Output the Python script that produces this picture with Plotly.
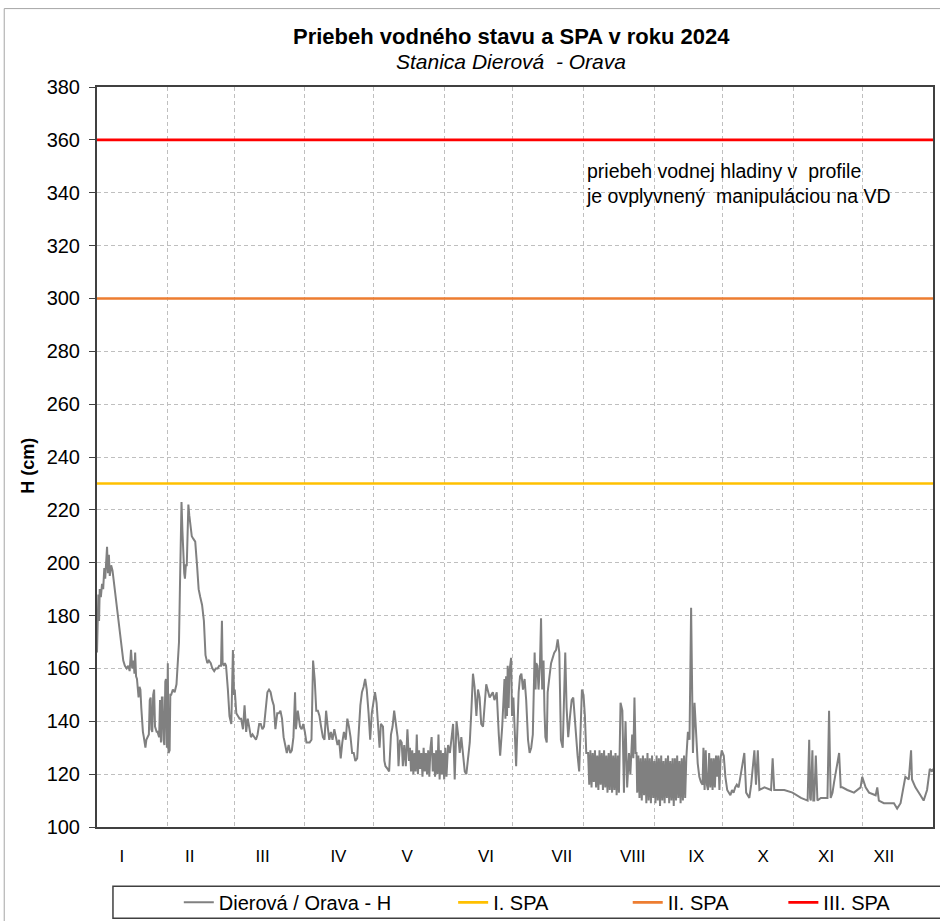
import plotly.graph_objects as go

# ---------------- data ----------------
month_labels = ["I", "II", "III", "IV", "V", "VI", "VII", "VIII", "IX", "X", "XI", "XII"]
month_label_day = [10.9, 40.6, 72.5, 105.7, 135.8, 170.3, 203.5, 234.5, 262.4, 291.7, 319.2, 344.5]
month_start_day = [31, 60, 91, 121, 152, 182, 213, 244, 274, 305, 335]
year_days = 366

spa1_level = 230
spa2_level = 300
spa3_level = 360

# water level H (cm), time in days since 1 Jan 2024 00:00
jan_t = [0.0, 0.2, 0.4, 0.6, 0.9, 1.2, 1.7, 2.2, 2.7, 3.2, 3.6, 4.0, 4.4, 4.8, 5.2, 5.6, 6.2, 6.8, 7.7, 8.5,
         9.2, 10.0, 10.7, 11.5, 12.2, 13.0, 13.7, 14.3, 14.9, 15.4, 16.0, 16.4, 16.7, 17.1, 17.5, 18.2, 18.6,
         19.0, 19.4, 19.7, 20.1, 20.5, 20.9, 21.2, 21.6, 22.0, 22.4, 22.7, 23.1, 23.5, 23.8, 24.2, 24.6, 25.0,
         25.4, 25.7, 26.1, 26.5, 27.2, 27.6, 28.0, 28.4, 28.7, 29.1, 29.5, 29.9, 30.2, 30.6]
jan_h = [166, 180, 172, 188, 178, 190, 187, 192, 190, 198, 194, 204, 206, 196, 203, 195, 199, 197, 190, 185,
         180, 173, 167, 163, 161, 160, 161, 159, 167, 160, 163, 158, 166, 157, 156, 149, 153,
         152, 145, 139, 136, 134, 131, 130, 133, 134, 135, 135, 148, 149, 137, 136, 150, 152,
         138, 137, 136, 136, 134, 148, 132, 149, 149, 133, 131, 155, 156, 130]

feb_t = [31.0, 31.3, 31.8, 32.1, 32.5, 33.2, 34.0, 34.8, 35.5, 35.9, 36.3, 36.7, 37.0, 37.4, 37.8, 38.2, 38.5,
         38.9, 39.3, 39.6, 40.0, 40.4, 40.8, 41.5, 42.2, 43.0, 43.8, 44.5, 45.2, 46.0, 46.8, 47.5, 48.3, 49.0,
         49.8, 50.5, 51.3, 52.0, 52.8, 53.5, 54.3, 54.7, 55.0, 55.5, 56.0, 56.5, 57.3, 58.0, 58.5, 58.8, 59.5]
feb_h = [162, 128, 129, 150, 150, 152, 151, 154, 162, 170, 190, 210, 223, 212, 202, 196, 194,
         199, 199, 215, 222, 218, 215, 210, 209, 208, 199, 190, 187, 184, 178, 165, 162, 163,
         162, 160, 159, 160, 160, 161, 161, 178, 162, 161, 162, 161, 152, 142, 140, 139, 167]

mar_t = [60.0, 60.3, 61.0, 61.7, 62.4, 63.1, 63.9, 64.6, 65.3, 66.0, 66.7, 67.4, 68.1, 68.9, 69.6, 70.3, 71.0,
         71.7, 72.4, 73.1, 73.9, 74.6, 75.3, 76.0, 76.7, 77.4, 78.1, 78.9, 79.6, 80.3, 81.0, 81.7, 82.4, 83.1,
         83.9, 84.6, 85.3, 86.0, 86.7, 87.1, 87.9, 88.9, 89.6, 90.3]
mar_h = [150, 152, 143, 142, 141, 141, 137, 146, 136, 141, 138, 134, 135, 134, 133, 135, 139,
         139, 137, 138, 146, 151, 152, 151, 148, 146, 137, 143, 143, 144, 141, 134, 131, 128,
         131, 128, 129, 134, 151, 137, 144, 138, 137, 139]

apr_t = [91.0, 91.7, 92.4, 93.1, 93.9, 94.6, 95.3, 96.0, 96.7, 97.4, 98.1, 98.9, 99.6, 100.3, 101.0, 101.7,
         102.4, 103.1, 103.9, 104.6, 105.3, 106.0, 106.7, 107.4, 108.1, 108.9, 109.6, 110.3, 111.0, 111.7,
         112.4, 113.1, 113.9, 114.6, 115.3, 116.0, 116.7, 117.4, 118.1, 118.9, 119.6, 120.3]
apr_h = [136, 132, 132, 132, 133, 163, 156, 144, 144, 142, 138, 134, 133, 144, 138, 133,
         136, 133, 137, 134, 131, 133, 126, 132, 136, 133, 141, 138, 134, 128,
         128, 125, 126, 136, 146, 151, 153, 156, 152, 143, 133, 143]

may_t = [121.0, 121.7, 122.4, 123.0, 123.7, 124.3, 125.2, 125.8, 126.3, 127.2, 127.9, 128.7, 129.4, 130.1,
         130.8, 131.6, 132.0, 132.7, 133.4, 133.9, 134.5, 135.2, 135.9, 136.6,
         137.0, 137.5, 138.0, 138.5, 139.0, 139.5, 140.0, 140.5, 141.0, 141.5, 142.0, 142.5, 143.0, 143.5,
         144.0, 144.5, 145.0, 145.5, 146.0, 146.5, 147.0, 147.5, 148.0, 148.5, 149.0, 149.5, 150.0, 150.5,
         151.0, 151.5, 152.0, 152.5, 153.0]
may_h = [148, 151, 147, 138, 130, 139, 138, 125, 123, 122, 121, 135, 138, 144,
         140, 134, 123, 133, 132, 123, 131, 123, 137, 125,
         130, 121, 129, 120, 128, 121, 135, 120, 129, 122, 128, 119, 130, 121,
         128, 120, 129, 119, 130, 134, 121, 128, 119, 129, 120, 135, 118, 129,
         120, 128, 118, 130, 119]

jun_t = [153.7, 154.5, 155.9, 156.6, 157.4, 158.1, 158.8, 159.5, 160.3, 161.0, 161.7, 162.4, 163.2, 163.9,
         164.6, 165.3, 166.1, 166.8, 167.5, 168.2, 169.0, 170.4, 171.1, 171.9, 172.6, 173.3, 174.0, 175.0,
         175.9, 176.5, 177.4, 178.4, 178.8, 179.1, 179.5, 179.8, 180.2, 180.6, 181.3, 181.7]
jun_h = [131, 128, 139, 118, 140, 135, 128, 134, 126, 121, 120, 125, 132, 144,
         158, 153, 142, 152, 149, 139, 138, 154, 152, 149, 150, 151, 148, 151,
         135, 127, 138, 156, 141, 157, 142, 161, 145, 159, 164, 142]

jul_t = [182.3, 183.0, 183.5, 184.0, 184.6, 185.2, 185.8, 186.5, 187.2, 187.9, 188.7, 189.4, 190.1, 190.8,
         191.2, 191.6, 192.0, 192.3, 192.8, 193.3, 193.9, 194.4, 194.9, 195.5, 195.9, 196.3, 196.9, 197.3,
         198.1, 198.8, 199.5, 200.2, 201.0, 201.7, 202.4, 203.1, 203.9, 204.6, 205.0, 205.6, 206.3, 207.1,
         207.8, 208.5, 208.9, 209.7, 210.4, 211.1, 211.8, 212.3]
jul_h = [149, 129, 123, 136, 151, 157, 158, 152, 156, 148, 133, 128, 130, 135,
         150, 166, 152, 162, 161, 152, 161, 179, 152, 163, 144, 134, 132, 151,
         157, 162, 164, 166, 167, 171, 166, 133, 130, 161, 166, 145, 134, 142,
         148, 149, 144, 133, 127, 121, 137, 152]

aug_t = [213.0, 213.6, 214.2, 214.7,
         215.0, 215.5, 216.0, 216.5, 217.0, 217.5, 218.0, 218.5, 219.0, 219.5, 220.0, 220.5, 221.0, 221.5,
         222.0, 222.5, 223.0, 223.5, 224.0, 224.5, 225.0, 225.5, 226.0, 226.5, 227.0, 227.5, 228.0, 228.5,
         229.2, 230.0, 230.4, 230.7, 231.0, 231.4, 232.1, 232.9, 233.5, 234.3, 234.8, 235.3, 235.8, 236.2,
         236.5, 237.0, 237.5, 238.0, 238.5, 239.0, 239.5, 240.0, 240.5, 241.0,
         241.5, 242.0, 242.5, 243.0, 243.5]
aug_h = [150, 142, 128, 128,
         128, 116, 129, 115, 128, 117, 129, 115, 127, 114, 129, 116, 128, 114,
         129, 115, 127, 113, 128, 114, 129, 113, 127, 114, 128, 112, 127, 113,
         147, 144, 128, 113, 128, 140, 115, 128, 120, 135, 126, 149, 128, 128,
         113, 127, 111, 126, 110, 127, 112, 126, 109, 128,
         110, 126, 109, 127, 111]

sep_t = [244.0, 244.5, 245.0, 245.5, 246.0, 246.5, 247.0, 247.5, 248.0, 248.5, 249.0, 249.5, 250.0, 250.5,
         251.0, 251.5, 252.0, 252.5, 253.0, 253.5, 254.0, 254.5, 255.0, 255.5, 256.0, 256.5, 257.0, 257.5,
         258.0, 258.7, 259.4, 260.1, 260.5, 260.9, 261.6, 262.3, 263.0, 263.7, 264.4, 265.1,
         265.5, 266.0, 266.5, 267.0, 267.5, 268.0, 268.5, 269.0, 269.5, 270.0, 270.5, 271.0, 271.5, 272.0,
         272.5, 273.0, 273.5]
sep_h = [125, 109, 127, 110, 126, 108, 127, 110, 125, 109, 126, 111, 127, 109,
         125, 110, 126, 108, 126, 110, 127, 111, 125, 109, 126, 110, 127, 111,
         126, 136, 133, 183, 140, 128, 147, 133, 124, 119, 117, 116,
         130, 114, 129, 116, 114, 128, 115, 126, 114, 126, 115, 127, 119, 127,
         114, 126, 129]

oct_t = [274.4, 275.1, 275.9, 277.3, 278.0, 278.7, 279.4, 280.1, 280.9, 283.4, 284.2, 285.6, 286.4, 287.8,
         288.5, 289.3, 290.0, 292.2, 295.1, 295.8, 296.5, 300.9, 304.5]
oct_h = [127, 119, 114, 112, 114, 113, 115, 116, 115, 128, 113, 111, 116, 129,
         116, 129, 114, 115, 114, 126, 114, 114, 113]

nov_t = [308.2, 311.1, 311.8, 312.2, 312.5, 313.2, 313.6, 314.0, 314.7, 315.4, 316.9, 319.8, 320.5, 321.2,
         322.0, 322.7, 324.9, 325.6, 326.3, 328.5, 331.4, 334.3]
nov_h = [111, 110, 133, 111, 110, 129, 110, 110, 127, 110, 111, 111, 144, 111,
         113, 117, 128, 115, 115, 114, 113, 115]

dec_t = [335.0, 336.5, 338.0, 340.9, 341.6, 342.3, 344.5, 348.9, 350.3, 351.8, 353.9, 355.4, 356.4, 356.8,
         358.3, 360.5, 361.9, 363.4, 364.6, 365.6, 366.0]
dec_h = [119, 115, 113, 112, 115, 110, 109, 109, 107, 109, 119, 118, 129, 118,
         115, 112, 110, 114, 122, 121, 122]

segments_t = [jan_t, feb_t, mar_t, apr_t, may_t, jun_t, jul_t, aug_t, sep_t, oct_t, nov_t, dec_t]
segments_h = [jan_h, feb_h, mar_h, apr_h, may_h, jun_h, jul_h, aug_h, sep_h, oct_h, nov_h, dec_h]
t_all, h_all = [], []
for i, (ts, hs) in enumerate(zip(segments_t, segments_h)):
    assert len(ts) == len(hs), (i, len(ts), len(hs))
    t_all += ts
    h_all += hs

# ---------------- figure ----------------
FONT = "Arial, Liberation Sans, sans-serif"
GRID_DASH = "4px,3px"
fig = go.Figure()

fig.add_trace(go.Scatter(x=t_all, y=h_all, mode="lines", name="Dierová / Orava - H",
                         line=dict(color="#808080", width=2.0), legend="legend", showlegend=True))
fig.add_trace(go.Scatter(x=[0, year_days], y=[spa1_level, spa1_level], mode="lines", name="I. SPA",
                         line=dict(color="#FFC000", width=2.6), legend="legend2", showlegend=True))
fig.add_trace(go.Scatter(x=[0, year_days], y=[spa2_level, spa2_level], mode="lines", name="II. SPA",
                         line=dict(color="#ED7D31", width=2.6), legend="legend3", showlegend=True))
fig.add_trace(go.Scatter(x=[0, year_days], y=[spa3_level, spa3_level], mode="lines", name="III. SPA",
                         line=dict(color="#FF0000", width=2.6), legend="legend4", showlegend=True))

W, H = 940, 927
L, R, T, B = 97, 5, 87, 95
pw = W - L - R
ph = H - T - B
VS = H / 921.0  # vertical correction between layout px and captured px


def px(xp):
    return (xp - L) / pw


def py(yp):
    return (H - B - yp * VS) / ph


leg_common = dict(orientation="h", yanchor="middle", xanchor="left", bgcolor="rgba(0,0,0,0)",
                  borderwidth=0, font=dict(family=FONT, size=20, color="#000000"), visible=True)
fig.update_layout(
    width=W, height=H,
    margin=dict(l=L, r=R, t=T, b=B),
    paper_bgcolor="white", plot_bgcolor="white",
    font=dict(family=FONT, color="#000000"),
    showlegend=True,
    legend=dict(x=px(179), y=py(902), **leg_common),
    legend2=dict(x=px(454), y=py(902), **leg_common),
    legend3=dict(x=px(629), y=py(902), **leg_common),
    legend4=dict(x=px(785), y=py(902), **leg_common),
    xaxis=dict(range=[0, year_days], showgrid=False, zeroline=False,
               tickmode="array", tickvals=month_label_day, ticktext=month_labels,
               ticks="", tickfont=dict(family=FONT, size=17), ticklabelstandoff=13,
               showline=True, mirror=True, linecolor="#404040", linewidth=2,
               minor=dict(tickmode="array", tickvals=month_start_day, showgrid=True,
                          gridcolor="#BFBFBF", griddash=GRID_DASH, gridwidth=1, ticks="")),
    yaxis=dict(range=[100, 380], dtick=20, tick0=100, showgrid=True, gridcolor="#BFBFBF",
               griddash=GRID_DASH, gridwidth=1, zeroline=False,
               ticks="outside", ticklen=6, tickcolor="#404040", ticklabelstandoff=5,
               tickfont=dict(family=FONT, size=20),
               showline=True, mirror=True, linecolor="#404040", linewidth=2),
)

fig.add_annotation(xref="paper", yref="paper", x=px(512), y=py(36),
                   text="<b>Priebeh vodného stavu a SPA v roku 2024</b>", showarrow=False,
                   font=dict(family=FONT, size=22, color="#000000"), xanchor="center", yanchor="middle")
fig.add_annotation(xref="paper", yref="paper", x=px(512), y=py(61),
                   text="<i>Stanica Dierová\u00a0\u00a0- Orava</i>", showarrow=False,
                   font=dict(family=FONT, size=21, color="#000000"), xanchor="center", yanchor="middle")
fig.add_annotation(xref="paper", yref="paper", x=px(28), y=py(465), text="<b>H (cm)</b>",
                   textangle=-90, showarrow=False, font=dict(family=FONT, size=18, color="#000000"),
                   xanchor="center", yanchor="middle")
fig.add_annotation(xref="paper", yref="paper", x=px(585), y=py(183), align="left",
                   text="priebeh vodnej hladiny v\u00a0\u00a0profile<br>je ovplyvnený\u00a0\u00a0manipuláciou na VD",
                   showarrow=False, font=dict(family=FONT, size=19.5, color="#000000"),
                   xanchor="left", yanchor="middle")

# legend frame and outer chart frame
fig.add_shape(type="rect", xref="paper", yref="paper", x0=px(113), x1=px(945), y0=py(918), y1=py(886),
              line=dict(color="#404040", width=1.5), fillcolor="rgba(0,0,0,0)", layer="above")
fig.add_shape(type="rect", xref="paper", yref="paper", x0=px(4), x1=px(950), y0=py(935), y1=py(8),
              line=dict(color="#A6A6A6", width=1), fillcolor="rgba(0,0,0,0)", layer="above")

fig.write_html("out.html", config={"displayModeBar": False},
               post_script="document.body.style.margin='0';document.body.style.overflow='hidden';")
